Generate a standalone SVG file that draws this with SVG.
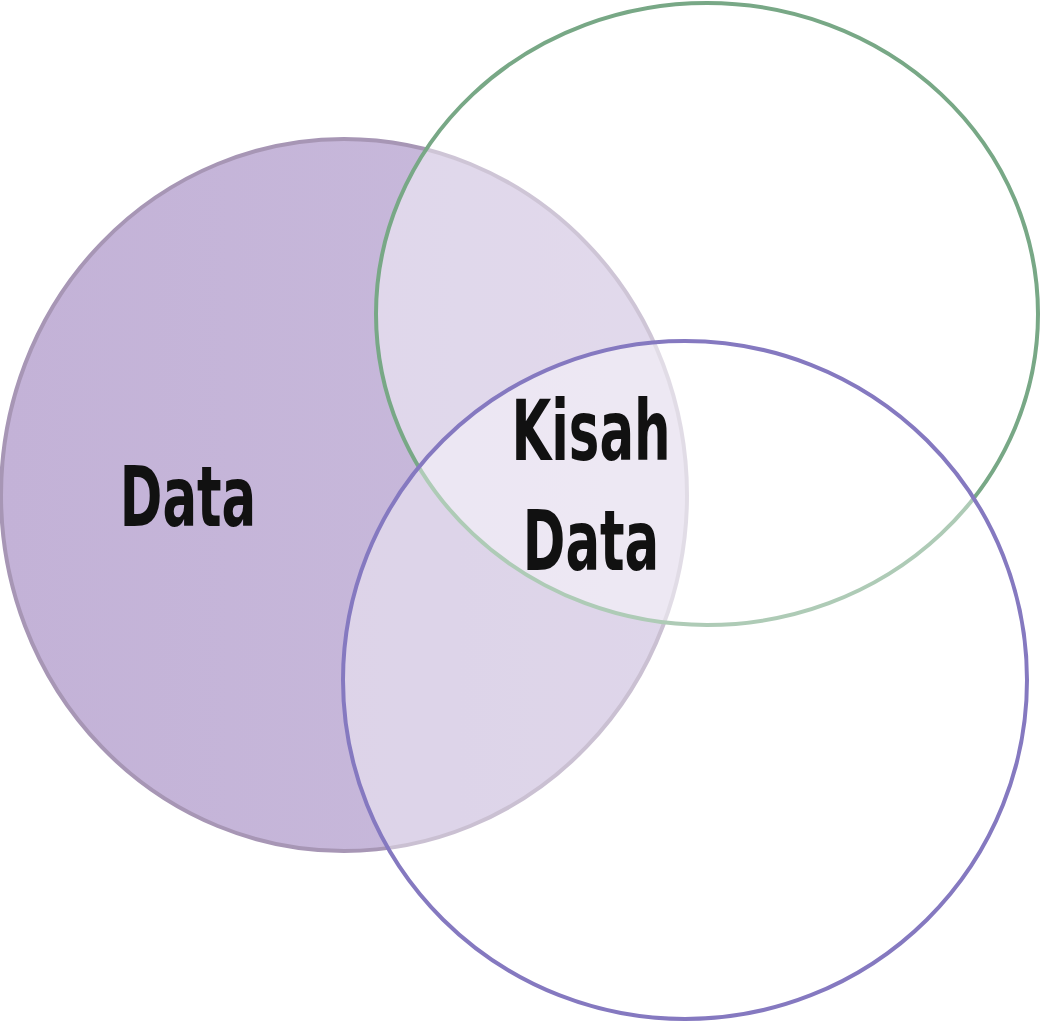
<svg xmlns="http://www.w3.org/2000/svg" width="1040" height="1024" viewBox="0 0 1040 1024">
<style>
.lbl{font-family:"DejaVu Sans Condensed","DejaVu Sans",sans-serif;font-weight:bold;font-size:84px;fill:#111;text-anchor:middle}
</style>
<defs>
<linearGradient id="pg" x1="0" y1="0" x2="1" y2="0">
<stop offset="0" stop-color="#c3b2d7"/><stop offset="1" stop-color="#c9bbdc"/>
</linearGradient>
</defs>
<rect width="1040" height="1024" fill="#fff"/>
<g id="data-circle"><ellipse cx="344" cy="495" rx="343" ry="356" fill="url(#pg)" stroke="#a796b5" stroke-width="4"/></g>
<g id="green-circle"><ellipse cx="707" cy="314" rx="331" ry="311" fill="#fff" fill-opacity="0.45" stroke="#78a886" stroke-width="4"/></g>
<g id="blue-circle"><ellipse cx="685" cy="680" rx="342" ry="339" fill="#fff" fill-opacity="0.4" stroke="#8579c0" stroke-width="4"/></g>
<g id="labels">
<text class="lbl" transform="translate(188 526) scale(0.68 1)">Data</text>
<text class="lbl" transform="translate(591 460) scale(0.68 1)">Kisah</text>
<text class="lbl" transform="translate(591 570) scale(0.68 1)">Data</text>
</g>
<g id="connectors"/>
</svg>
